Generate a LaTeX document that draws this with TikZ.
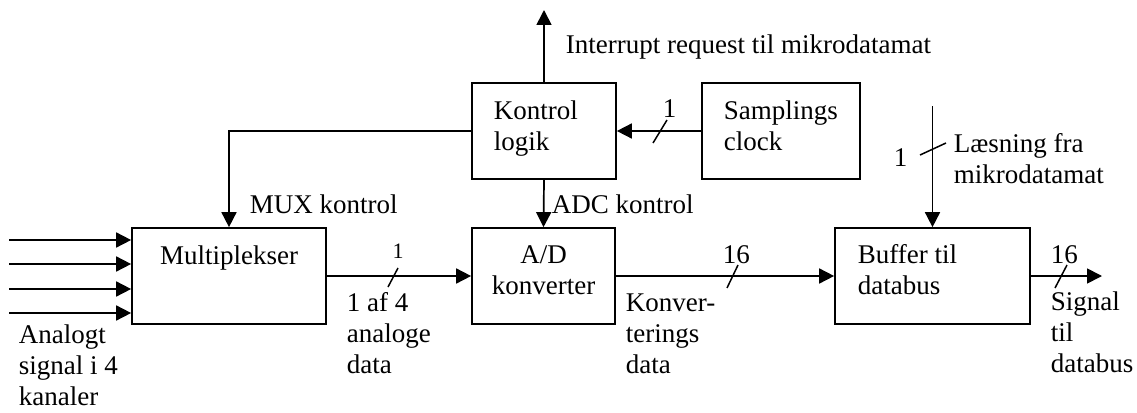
\documentclass[tikz,border=0pt]{standalone}
\usepackage{fontspec}
\setmainfont{Liberation Serif}
\usetikzlibrary{arrows.meta}
\begin{document}
\begin{tikzpicture}[x=1pt,y=-1pt,line width=1.7pt,
  blk/.style={draw,rectangle,inner sep=0pt},
  txt/.style={inner sep=0pt,align=left,font=\fontsize{27}{31}\selectfont},
  small/.style={txt,font=\fontsize{22}{26}\selectfont},
  arr/.style={-{Triangle[length=15pt,width=15pt]}},
  busmark/.style={line width=1.5pt}]
\useasboundingbox (0,0) rectangle (1137,412);

% function blocks
\node[blk,minimum width=194pt,minimum height=96pt] (mux) at (229,276) {};
\node[blk,minimum width=144pt,minimum height=96pt] (ctl) at (544,131) {};
\node[blk,minimum width=158pt,minimum height=96pt] (clk) at (781,131) {};
\node[blk,minimum width=143pt,minimum height=96pt] (adc) at (543.5,276) {};
\node[blk,minimum width=195pt,minimum height=96pt] (buf) at (932.5,276) {};

% block captions (a multi-line node sits on the baseline of its last line)
\node[txt,anchor=base] (muxT) at (229,264) {Multiplekser};
\node[txt,anchor=base west] (ctlT) at (493,150) {Kontrol\\logik};
\node[txt,anchor=base west] (clkT) at (723,150) {Samplings\\clock};
\node[txt,anchor=base,align=center] (adcT) at (543.5,294) {A/D\\konverter};
\node[txt,anchor=base west] (bufT) at (857,294) {Buffer til\\databus};

% free ends of the signal lines
\coordinate (in1) at (9,240);
\coordinate (in2) at (9,264);
\coordinate (in3) at (9,289);
\coordinate (in4) at (9,313);
\coordinate (irq) at (544,10);
\coordinate (rd) at (932.5,106);
\coordinate (out) at (1102,276);

% analogue inputs
\foreach \i in {1,...,4}
  \draw[arr] (in\i) -- (in\i -| mux.west);

% data path
\draw[arr] (mux.east) -- (adc.west);
\draw[arr] (adc.east) -- (buf.west);
\draw[arr] (buf.east) -- (out);

% control lines
\draw[arr] (ctl.north) -- (irq);
\draw[arr] (clk.west) -- (ctl.east);
\draw[arr] (ctl.west) -| (mux.north);
\draw[arr] (ctl.south) -- (adc.north);
\draw[arr] (rd) -- (buf.north);

% bus width marks
\draw[busmark] (653,143) -- (667,120);
\draw[busmark] (388,287) -- (398,268);
\draw[busmark] (727,288) -- (738,265);
\draw[busmark] (1055,288) -- (1067,265);
\draw[busmark] (920,155) -- (946,143);

% signal labels
\node[txt,anchor=base west] (irqT) at (565,54) {Interrupt request til mikrodatamat};
\node[txt,anchor=base west] (muxctlT) at (249,213) {MUX kontrol};
\node[txt,anchor=base west] (adcctlT) at (551,213) {ADC kontrol};
\node[txt,anchor=base west] (w1a) at (662,117) {1};
\node[small,anchor=base] (w1b) at (398,258) {1};
\node[txt,anchor=base west] (w16a) at (722,263) {16};
\node[txt,anchor=base west] (w16b) at (1050,263) {16};
\node[txt,anchor=base west] (w1c) at (893,166) {1};
\node[txt,anchor=base west] (inT) at (18,405) {Analogt\\signal i 4\\kanaler};
\node[txt,anchor=base west] (selT) at (346,373) {1 af 4\\analoge\\data};
\node[txt,anchor=base west] (convT) at (625,373) {Konver-\\terings\\data};
\node[txt,anchor=base west] (outT) at (1050,372) {Signal\\til\\databus};
\node[txt,anchor=base west] (rdT) at (953,183) {Læsning fra\\mikrodatamat};
\end{tikzpicture}
\end{document}
